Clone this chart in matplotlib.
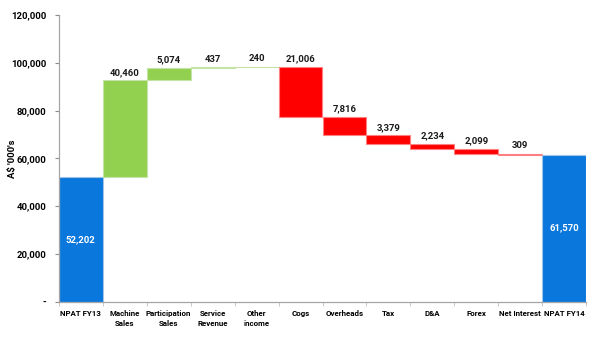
import numpy as np
import matplotlib.pyplot as plt
from matplotlib.ticker import FuncFormatter

categories = ["NPAT FY13", "Machine\nSales", "Participation\nSales", "Service\nRevenue",
              "Other\nincome", "Cogs", "Overheads", "Tax", "D&A", "Forex",
              "Net Interest", "NPAT FY14"]
opening = 52202
changes = [40460, 5074, 437, 240, -21006, -7816, -3379, -2234, -2099, -309]
closing = 61570

BLUE = "#0a77dc"
GREEN = "#92d050"
RED = "#ff0000"

plt.rcParams["font.family"] = ["Roboto", "DejaVu Sans"]
plt.rcParams["font.weight"] = "bold"

# running totals for the floating bars
levels = np.concatenate([[opening], opening + np.cumsum(changes)])
bottoms = [0]
heights = [opening]
colors = [BLUE]
edges = ["#9dc3e6"]
for i, c in enumerate(changes):
    start = levels[i]
    bottoms.append(min(start, start + c))
    heights.append(abs(c))
    colors.append(GREEN if c > 0 else RED)
    edges.append("#c4e3a4" if c > 0 else "#ff8080")
bottoms.append(0)
heights.append(closing)
colors.append(BLUE)
edges.append("#9dc3e6")

fig, ax = plt.subplots(figsize=(6, 3.37), dpi=100)
fig.subplots_adjust(left=0.098, right=0.977, top=0.955, bottom=0.105)

x = np.arange(len(categories))
ax.bar(x, heights, bottom=bottoms, width=1.0, color=colors,
       edgecolor=edges, linewidth=0.8)

# value labels
ax.text(x[0], opening / 2, f"{opening:,}", ha="center", va="center",
        color="white", fontsize=6.8, fontweight="bold")
ax.text(x[-1], closing / 2, f"{closing:,}", ha="center", va="center",
        color="white", fontsize=6.8, fontweight="bold")
for i, c in enumerate(changes):
    top = max(levels[i], levels[i] + c)
    ax.text(x[i + 1], top + 1500, f"{abs(c):,}", ha="center", va="bottom",
            color="#1a1a1a", fontsize=6.8, fontweight="bold")

ax.set_xlim(-0.5, len(categories) - 0.5)
ax.set_ylim(0, 120000)
ax.set_yticks(np.arange(0, 120001, 20000))
ax.yaxis.set_major_formatter(FuncFormatter(lambda v, p: "-" if v == 0 else f"{int(v):,}"))
ax.set_ylabel("A$ '000's", fontsize=6.8, fontweight="bold")
ax.yaxis.set_label_coords(-0.08, 0.5)

ax.set_xticks(x)
ax.set_xticklabels(categories, fontsize=5.7, fontweight="bold", linespacing=1.5)
ax.set_xticks(np.arange(-0.5, len(categories)), minor=True)
ax.tick_params(axis="x", which="major", length=0, pad=6)
ax.tick_params(axis="x", which="minor", length=3, color="#bfbfbf")
ax.tick_params(axis="y", length=3, color="#8c8c8c", labelsize=6.8, pad=6)

for side in ["top", "right"]:
    ax.spines[side].set_visible(False)
for side in ["left", "bottom"]:
    ax.spines[side].set_color("#a6a6a6")
    ax.spines[side].set_linewidth(0.9)

fig.savefig("out.png", dpi=100)
